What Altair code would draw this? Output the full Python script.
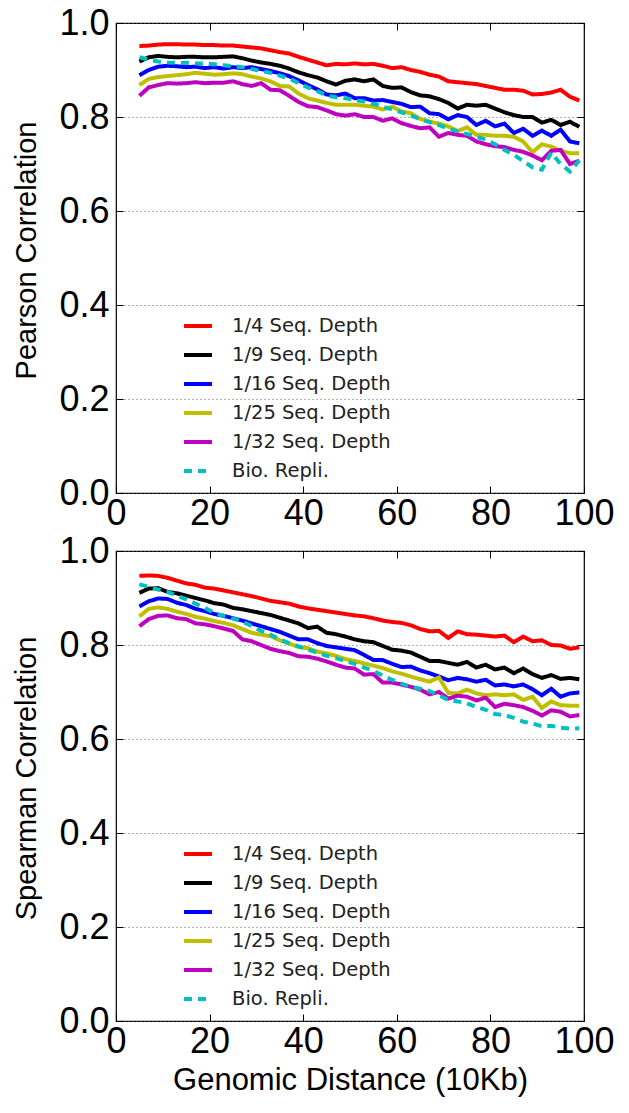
import altair as alt
import pandas as pd

x_vals = list(range(5, 100, 2))
series_names = ["1/4 Seq. Depth", "1/9 Seq. Depth", "1/16 Seq. Depth",
                "1/25 Seq. Depth", "1/32 Seq. Depth", "Bio. Repli."]
series_colors = ["#ff0000", "#000000", "#0000ff", "#bfbf00", "#bf00bf", "#00bfbf"]

pearson_q4 = [.951, .952, .954, .955, .955, .954, .954, .953, .953, .952, .952, .950, .948, .946, .942, .938,
              .935, .928, .922, .916, .910, .913, .912, .914, .912, .913, .909, .904, .906, .900, .896, .890,
              .886, .876, .874, .872, .870, .866, .862, .858, .858, .856, .848, .849, .852, .858, .843, .835]
pearson_q9 = [.918, .927, .930, .928, .927, .928, .928, .927, .927, .928, .929, .925, .920, .916, .913, .909,
              .903, .895, .889, .884, .876, .869, .877, .880, .876, .880, .866, .862, .863, .853, .846, .844,
              .838, .830, .818, .826, .824, .826, .818, .810, .804, .800, .800, .788, .794, .783, .790, .779]
pearson_q16 = [.889, .900, .907, .909, .908, .906, .907, .904, .906, .903, .906, .904, .906, .902, .898, .893,
               .887, .878, .868, .859, .848, .846, .850, .840, .840, .835, .836, .832, .828, .821, .822, .808,
               .806, .795, .804, .800, .783, .792, .780, .786, .766, .775, .760, .771, .760, .773, .748, .744]
pearson_q25 = [.868, .881, .885, .887, .889, .891, .894, .892, .890, .891, .893, .891, .886, .882, .876, .866,
               .865, .850, .840, .835, .830, .826, .826, .826, .824, .822, .816, .822, .812, .808, .796, .790,
               .786, .780, .770, .778, .762, .762, .760, .760, .758, .748, .725, .742, .737, .728, .723, .723]
pearson_q32 = [.845, .863, .868, .872, .871, .872, .874, .872, .873, .873, .876, .870, .866, .872, .858, .857,
               .845, .832, .823, .821, .814, .806, .803, .806, .800, .800, .792, .797, .787, .781, .776, .778,
               .758, .766, .762, .760, .748, .742, .738, .736, .730, .726, .718, .708, .728, .730, .700, .707]
pearson_bio = [.927, .922, .918, .916, .915, .915, .914, .914, .912, .910, .908, .906, .902, .898, .894, .888,
               .882, .872, .863, .855, .846, .842, .840, .836, .833, .828, .822, .816, .810, .803, .796, .789,
               .783, .775, .770, .764, .758, .752, .742, .730, .720, .706, .693, .688, .724, .700, .684, .708]

spear_q4 = [.947, .948, .947, .943, .937, .931, .928, .922, .920, .916, .912, .908, .904, .899, .894, .891,
            .888, .882, .878, .875, .872, .869, .866, .863, .861, .857, .852, .849, .847, .842, .834, .829,
            .830, .815, .829, .823, .822, .820, .818, .820, .806, .818, .808, .810, .800, .799, .792, .795]
spear_q9 = [.911, .920, .921, .913, .910, .905, .900, .895, .889, .886, .879, .876, .872, .868, .864, .858,
            .852, .846, .836, .839, .826, .823, .818, .812, .808, .806, .798, .790, .788, .784, .775, .766,
            .766, .762, .758, .764, .752, .758, .748, .752, .740, .750, .738, .730, .736, .728, .730, .727]
spear_q16 = [.882, .893, .899, .898, .890, .885, .877, .872, .866, .862, .857, .852, .846, .840, .834, .828,
             .820, .812, .812, .804, .798, .795, .792, .789, .779, .768, .768, .760, .753, .754, .746, .740,
             .733, .725, .730, .727, .722, .726, .714, .716, .712, .716, .706, .693, .707, .690, .697, .699]
spear_q25 = [.861, .877, .880, .877, .871, .866, .860, .856, .851, .847, .842, .834, .826, .822, .819, .810,
             .803, .796, .793, .786, .782, .777, .770, .766, .761, .756, .751, .744, .739, .733, .727, .722,
             .731, .698, .697, .705, .697, .693, .695, .693, .695, .683, .690, .666, .680, .672, .671, .671]
spear_q32 = [.840, .855, .862, .863, .857, .855, .846, .844, .840, .835, .830, .812, .808, .800, .792, .787,
             .783, .776, .775, .771, .765, .758, .752, .750, .737, .738, .720, .720, .716, .711, .705, .695,
             .700, .686, .692, .690, .682, .688, .668, .675, .672, .668, .660, .650, .661, .658, .648, .651]
spear_bio = [.929, .924, .918, .913, .905, .897, .888, .879, .868, .862, .856, .850, .840, .830, .822, .812,
             .804, .797, .790, .784, .777, .772, .766, .760, .752, .745, .735, .726, .718, .711, .707, .702,
             .693, .683, .680, .676, .668, .662, .653, .651, .645, .637, .633, .627, .628, .624, .622, .623]

x_ticks = [0, 20, 40, 60, 80, 100]
y_ticks = [0.0, 0.2, 0.4, 0.6, 0.8, 1.0]

W, H = 468, 470
TICK = 7
LABEL_FONT = "Liberation Sans"
LABEL_SIZE = 36


def make_df(cols):
    rows = []
    for name, vals in zip(series_names, cols):
        for xv, yv in zip(x_vals, vals):
            rows.append({"x": xv, "y": yv, "series": name})
    return pd.DataFrame(rows)


def legend():
    return alt.Legend(
        title=None, orient="none", legendX=66, legendY=287,
        symbolType="stroke", symbolStrokeWidth=4, symbolSize=784,
        labelFont="DejaVu Sans", labelFontSize=19.5, labelColor="#222",
        rowPadding=3, labelOffset=18, padding=0, labelLimit=300)


def panel(cols, ytitle, xtitle):
    df = make_df(cols)
    xscale = alt.Scale(domain=[0, 100], nice=False)
    yscale = alt.Scale(domain=[0, 1], nice=False)
    x_axis_kwargs = dict(
        orient="bottom", values=x_ticks, tickSize=TICK, offset=-TICK, domain=False,
        grid=False, labelPadding=3, labelFont=LABEL_FONT, labelFontSize=LABEL_SIZE,
        labelColor="#000", tickColor="#000", labelFlush=False,
    )
    if xtitle:
        x_axis_kwargs.update(title=xtitle, titleFont="Liberation Sans", titleFontSize=31,
                             titleFontWeight="normal", titlePadding=6, titleColor="#000")
    else:
        x_axis_kwargs.update(title=None)
    lines = alt.Chart(df).mark_line(strokeWidth=4).encode(
        x=alt.X("x:Q", scale=xscale, axis=alt.Axis(**x_axis_kwargs)),
        y=alt.Y("y:Q", scale=yscale, axis=alt.Axis(
            orient="left", values=y_ticks, format=".1f", tickSize=TICK, offset=-TICK,
            domain=False, grid=True, gridDash=[1, 3], gridColor="#666", gridWidth=1,
            labelPadding=7, labelFont=LABEL_FONT, labelFontSize=LABEL_SIZE, labelColor="#000",
            tickColor="#000", labelFlush=False,
            title=ytitle, titleFont="Liberation Sans", titleFontSize=29,
            titleFontWeight="normal", titlePadding=17, titleColor="#000", titleY=227)),
        color=alt.Color("series:N", sort=series_names,
                        scale=alt.Scale(domain=series_names, range=series_colors),
                        legend=legend()),
        strokeDash=alt.StrokeDash("series:N", sort=series_names,
                                  scale=alt.Scale(domain=series_names,
                                                  range=[[1, 0], [1, 0], [1, 0], [1, 0], [1, 0], [8, 6]]),
                                  legend=legend()),
    )
    frame_axes = alt.Chart(df).mark_point(opacity=0).encode(
        x=alt.X("x:Q", scale=xscale, axis=alt.Axis(
            orient="top", values=x_ticks, tickSize=TICK, offset=-TICK, domain=False,
            grid=False, labels=False, title=None, tickColor="#000")),
        y=alt.Y("y:Q", scale=yscale, axis=alt.Axis(
            orient="right", values=y_ticks, tickSize=TICK, offset=-TICK, domain=False,
            grid=False, labels=False, title=None, tickColor="#000")),
    )
    return alt.layer(lines, frame_axes).resolve_axis(x="independent", y="independent").properties(
        width=W, height=H)


top = panel([pearson_q4, pearson_q9, pearson_q16, pearson_q25, pearson_q32, pearson_bio],
            "Pearson Correlation", None)
bottom = panel([spear_q4, spear_q9, spear_q16, spear_q25, spear_q32, spear_bio],
               "Spearman Correlation", "Genomic Distance (10Kb)")

chart = alt.vconcat(top, bottom, spacing=0).resolve_legend(
    color="independent", strokeDash="independent"
).properties(
    padding={"left": 12, "top": 4, "right": 10, "bottom": 4}
).configure_view(
    stroke="#000", strokeWidth=1.2
)

chart.save("out.html", embed_options={"renderer": "svg", "actions": False})
